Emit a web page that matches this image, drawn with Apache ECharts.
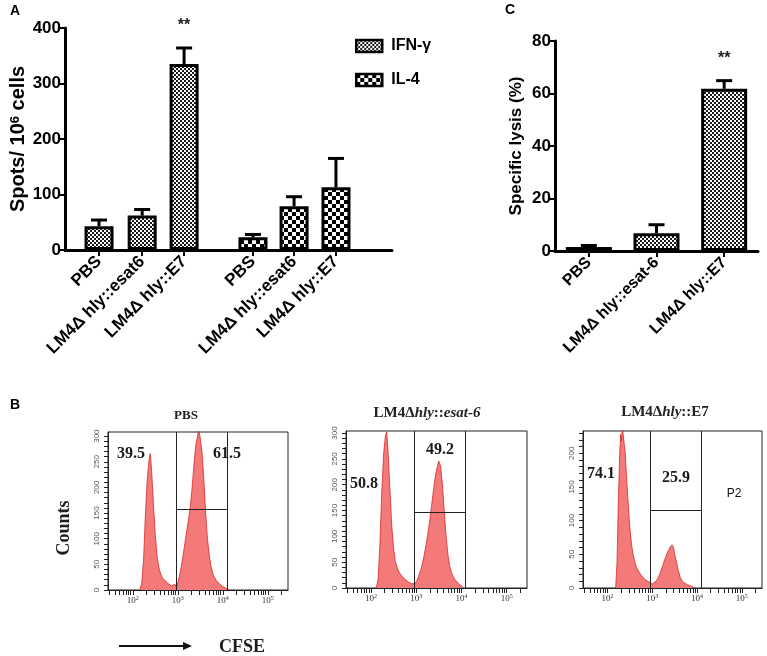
<!DOCTYPE html>
<html><head><meta charset="utf-8">
<script src="https://cdn.jsdelivr.net/npm/echarts@6/dist/echarts.min.js"></script>
<style>html,body{margin:0;padding:0;background:#fff}#c{width:767px;height:656px}</style>
</head><body><div id="c"></div>
<script>
// ---------- Panel A: ELISPOT ----------
const elispotCats = ['PBS', 'LM4\u0394 hly::esat6', 'LM4\u0394 hly::E7', 'PBS', 'LM4\u0394 hly::esat6', 'LM4\u0394 hly::E7'];
const ifnMeans = [43, 62, 335];
const ifnErrs = [11, 11, 29];
const il4Means = [23, 79, 113];
const il4Errs = [5, 17, 52];
const elispotSig = ['', '', '**', '', '', ''];
const spotsTicks = [0, 100, 200, 300, 400];

// ---------- Panel C: specific lysis ----------
const lysisCats = ['PBS', 'LM4\u0394 hly::esat-6', 'LM4\u0394 hly::E7'];
const lysisMeans = [1.5, 6.8, 61.8];
const lysisErrs = [0.6, 3.2, 3.1];
const lysisSig = ['', '', '**'];
const lysisTicks = [0, 20, 40, 60, 80];

// ---------- Panel B: CFSE histograms ([log10 CFSE, counts]) ----------
const flowPBS = [[2.16,0],[2.20,14],[2.24,58],[2.28,145],[2.32,212],[2.36,252],[2.39,266],[2.42,232],[2.46,168],[2.50,108],[2.54,66],[2.58,44],[2.62,31],[2.66,24],[2.70,20],[2.74,17],[2.78,13],[2.82,10],[2.86,8],[2.90,7],[2.94,11],[2.97,5],
  [3.00,14],[3.04,28],[3.08,46],[3.12,68],[3.16,92],[3.20,115],[3.24,138],[3.28,163],[3.32,200],[3.36,245],[3.40,282],[3.44,300],[3.47,312],[3.50,296],[3.54,268],[3.58,215],[3.62,150],[3.66,100],[3.70,68],[3.74,46],[3.78,32],[3.82,24],[3.86,18],[3.90,14],[3.94,11],[3.98,8],[4.02,6],[4.06,4],[4.10,2],[4.14,0]];
const flowEsat6 = [[2.12,0],[2.16,18],[2.20,85],[2.24,185],[2.28,258],[2.32,294],[2.35,302],[2.38,262],[2.42,192],[2.46,122],[2.50,78],[2.54,52],[2.58,40],[2.62,31],[2.66,26],[2.70,22],[2.74,18],[2.78,15],[2.82,12],[2.86,10],[2.90,8],[2.94,6],
  [2.98,9],[3.02,15],[3.06,24],[3.10,34],[3.14,48],[3.18,64],[3.22,84],[3.26,106],[3.30,130],[3.34,158],[3.38,188],[3.42,214],[3.46,232],[3.50,246],[3.54,236],[3.58,202],[3.62,150],[3.66,102],[3.70,66],[3.74,43],[3.78,30],[3.82,22],[3.86,16],[3.90,12],[3.94,8],[3.98,5],[4.02,3],[4.06,0]];
const flowE7 = [[2.18,0],[2.21,38],[2.24,128],[2.27,198],[2.29,228],[2.31,218],[2.33,240],[2.35,226],[2.37,214],[2.39,204],[2.42,168],[2.45,136],[2.48,104],[2.51,80],[2.54,62],[2.57,50],[2.61,38],[2.65,30],[2.70,24],[2.75,19],[2.80,15],[2.85,12],[2.90,10],[2.95,8],[3.00,6],
  [3.04,7],[3.08,10],[3.12,14],[3.16,20],[3.20,27],[3.24,35],[3.28,43],[3.32,50],[3.36,56],[3.40,61],[3.44,64],[3.47,60],[3.50,50],[3.54,38],[3.58,26],[3.62,16],[3.66,11],[3.70,8],[3.74,6],[3.78,5],[3.82,4],[3.86,3],[3.90,2],[3.94,0]];
const flowTitles = ['PBS', 'LM4\u0394hly::esat-6', 'LM4\u0394hly::E7'];
const flowYMax = [308, 304, 233];
const flowGateX = [2.96, 4.09];
const flowGateY = [158, 147, 115];
const flowLeftPct = ['39.5', '50.8', '74.1'];
const flowRightPct = ['61.5', '49.2', '25.9'];
const flowDecades = [2, 3, 4, 5];
const flowCountTicks = [0, 50, 100, 150, 200, 250, 300];

// ---------- layout (positions, not data) ----------
const slotsA = [0.82, 1.86, 2.87, 4.53, 5.52, 6.53];
const FF = '"Liberation Sans", Arial, sans-serif';
const SERIF = '"Liberation Serif", "Times New Roman", serif';

function checker(cell, dark, light) {
  const c = document.createElement('canvas');
  c.width = c.height = cell * 2;
  const g = c.getContext('2d');
  g.fillStyle = light; g.fillRect(0, 0, cell * 2, cell * 2);
  g.fillStyle = dark; g.fillRect(0, 0, cell, cell); g.fillRect(cell, cell, cell, cell);
  return c;
}
const patIFN = { image: checker(2, '#1a1a1a', '#ffffff'), repeat: 'repeat' };
const patIL4 = { image: checker(4, '#000000', '#ffffff'), repeat: 'repeat' };

function errRender(sigArr, offset) {
  return function (params, api) {
    const x = api.value(0), m = api.value(1), e = api.value(2);
    const p0 = api.coord([x, m]), p1 = api.coord([x, m + e]);
    const ch = [
      { type: 'line', shape: { x1: p0[0], y1: p0[1], x2: p1[0], y2: p1[1] }, style: { stroke: '#000', lineWidth: 3 } },
      { type: 'line', shape: { x1: p1[0] - 8, y1: p1[1], x2: p1[0] + 8, y2: p1[1] }, style: { stroke: '#000', lineWidth: 3 } }
    ];
    const s = sigArr[params.dataIndex + offset];
    if (s) ch.push({ type: 'text', style: { text: s, x: p1[0], y: p1[1] - 14, align: 'center', verticalAlign: 'bottom', font: 'bold 16px ' + FF, fill: '#222' } });
    return { type: 'group', children: ch };
  };
}

const grids = [
  { left: 65, top: 28, width: 327, height: 222 },
  { left: 555, top: 41, width: 203, height: 210 },
  { left: 108, top: 432, width: 180, height: 158, show: true, borderColor: '#222', borderWidth: 1 },
  { left: 346, top: 431, width: 181, height: 157, show: true, borderColor: '#222', borderWidth: 1 },
  { left: 583, top: 431, width: 179, height: 157, show: true, borderColor: '#222', borderWidth: 1 }
].map(g => Object.assign({ containLabel: false, outerBoundsMode: 'none' }, g));

const boldLbl = { color: '#000', fontWeight: 'bold', fontSize: 17, fontFamily: FF };
const xAxes = [
  { gridIndex: 0, type: 'value', min: 0, max: 7.88, splitLine: { show: false },
    axisLine: { show: true, lineStyle: { color: '#000', width: 3 } },
    axisTick: { show: true, customValues: slotsA, length: 6, lineStyle: { color: '#000', width: 2 } },
    axisLabel: { customValues: slotsA, rotate: 45, margin: 9, color: '#000', fontWeight: 'bold', fontSize: 17, fontFamily: FF,
      formatter: v => { let i = 0, d = 1e9; slotsA.forEach((s, k) => { if (Math.abs(s - v) < d) { d = Math.abs(s - v); i = k; } }); return elispotCats[i]; } } },
  { gridIndex: 1, type: 'category', data: lysisCats,
    axisLine: { show: true, lineStyle: { color: '#000', width: 3 } },
    axisTick: { show: true, alignWithLabel: true, length: 6, lineStyle: { color: '#000', width: 2 } },
    axisLabel: { rotate: 45, margin: 9, color: '#000', fontWeight: 'bold', fontSize: 16, fontFamily: FF, interval: 0 } }
];
const yAxes = [
  { gridIndex: 0, type: 'value', min: 0, max: 400, interval: 100, splitLine: { show: false },
    axisLine: { show: true, lineStyle: { color: '#000', width: 3 } },
    axisTick: { show: true, length: 6, lineStyle: { color: '#000', width: 2 } },
    axisLabel: Object.assign({ margin: 4 }, boldLbl),
    name: 'Spots/ 10{s|6} cells', nameLocation: 'middle', nameGap: 36,
    nameTextStyle: { color: '#000', fontWeight: 'bold', fontSize: 20, fontFamily: FF,
      rich: { s: { fontSize: 13, fontWeight: 'bold', fontFamily: FF, verticalAlign: 'top', lineHeight: 12, color: '#000' } } } },
  { gridIndex: 1, type: 'value', min: 0, max: 80, interval: 20, splitLine: { show: false },
    axisLine: { show: true, lineStyle: { color: '#000', width: 3 } },
    axisTick: { show: true, length: 6, lineStyle: { color: '#000', width: 2 } },
    axisLabel: Object.assign({ margin: 4 }, boldLbl),
    name: 'Specific lysis (%)', nameLocation: 'middle', nameGap: 30,
    nameTextStyle: { color: '#000', fontWeight: 'bold', fontSize: 17, fontFamily: FF } }
];

const flowXTicks = flowDecades.slice();
for (let n = 1; n <= 5; n++) for (let k = 2; k <= 9; k++) { const v = n + Math.log10(k); if (v > 1.45 && v < 5.45) flowXTicks.push(v); }
flowXTicks.sort((a, b) => a - b);

const series = [
  { type: 'bar', name: 'IFN-\u03b3', xAxisIndex: 0, yAxisIndex: 0, barWidth: 29, barGap: '-100%',
    data: ifnMeans.map((v, i) => [slotsA[i], v]),
    itemStyle: { color: patIFN, borderColor: '#000', borderWidth: 3 } },
  { type: 'bar', name: 'IL-4', xAxisIndex: 0, yAxisIndex: 0, barWidth: 29, barGap: '-100%',
    data: il4Means.map((v, i) => [slotsA[i + 3], v]),
    itemStyle: { color: patIL4, borderColor: '#000', borderWidth: 3 } },
  { type: 'custom', xAxisIndex: 0, yAxisIndex: 0, z: 1, data: ifnMeans.map((v, i) => [slotsA[i], v, ifnErrs[i]]), renderItem: errRender(elispotSig, 0) },
  { type: 'custom', xAxisIndex: 0, yAxisIndex: 0, z: 1, data: il4Means.map((v, i) => [slotsA[i + 3], v, il4Errs[i]]), renderItem: errRender(elispotSig, 3) },
  { type: 'bar', xAxisIndex: 1, yAxisIndex: 1, barWidth: 46, data: lysisMeans,
    itemStyle: { color: patIFN, borderColor: '#000', borderWidth: 3 } },
  { type: 'custom', xAxisIndex: 1, yAxisIndex: 1, z: 1, data: lysisMeans.map((v, i) => [i, v, lysisErrs[i]]), renderItem: errRender(lysisSig, 0) }
];

const flowData = [flowPBS, flowEsat6, flowE7];
for (let p = 0; p < 3; p++) {
  const gi = p + 2;
  const ymax = flowYMax[p];
  const yTicks = []; for (let v = 0; v <= ymax; v += 10) yTicks.push(v);
  const majY = flowCountTicks.filter(v => v <= ymax);
  xAxes.push({ gridIndex: gi, type: 'value', min: 1.45, max: 5.45, splitLine: { show: false },
    axisLine: { show: true, lineStyle: { color: '#222', width: 1 } },
    axisTick: { show: true, customValues: flowXTicks, length: 5, lineStyle: { color: '#222', width: 1 } },
    axisLabel: { customValues: flowDecades, margin: 5, color: '#333', fontSize: 9, fontFamily: SERIF,
      formatter: v => '{b|10}{s|' + v + '}',
      rich: { b: { fontSize: 9, fontFamily: SERIF, lineHeight: 12, color: '#333' }, s: { fontSize: 6, fontFamily: SERIF, lineHeight: 6, verticalAlign: 'top', color: '#333' } } } });
  yAxes.push({ gridIndex: gi, type: 'value', min: 0, max: ymax, splitLine: { show: false },
    axisLine: { show: true, lineStyle: { color: '#222', width: 1 } },
    axisTick: { show: true, customValues: yTicks, length: 4, lineStyle: { color: '#222', width: 1 } },
    axisLabel: { customValues: majY, rotate: 90, margin: 7, color: '#555', fontSize: 8, fontFamily: FF } });
  const xi = xAxes.length - 1, yi = yAxes.length - 1;
  series.push({ type: 'line', xAxisIndex: xi, yAxisIndex: yi, data: flowData[p], showSymbol: false, symbol: 'none',
    lineStyle: { color: '#d62828', width: 0.8 }, areaStyle: { color: '#f47a7a', opacity: 1 }, clip: true,
    markLine: { silent: true, symbol: ['none', 'none'], label: { show: false }, animation: false,
      lineStyle: { color: '#222', width: 1, type: 'solid' },
      data: [{ xAxis: flowGateX[0] }, { xAxis: flowGateX[1] },
        [{ coord: [flowGateX[0], flowGateY[p]] }, { coord: [flowGateX[1], flowGateY[p]] }]] } });
}

const pctFont = 'bold 16px ' + SERIF;
const pctPos = [[[131, 454], [227, 454]], [[364, 484], [440, 450]], [[601, 474], [676, 478]]];
const titlePos = [[186, 416], [427, 413], [665, 412]];
const graphics = [
  { type: 'text', x: 10, y: 4, style: { text: 'A', font: 'bold 14px ' + FF, fill: '#000' } },
  { type: 'text', x: 505, y: 3, style: { text: 'C', font: 'bold 14px ' + FF, fill: '#000' } },
  { type: 'text', x: 10, y: 398, style: { text: 'B', font: 'bold 14px ' + FF, fill: '#000' } },
  { type: 'text', x: 64, y: 528, rotation: Math.PI / 2, style: { text: 'Counts', font: 'bold 18px ' + SERIF, fill: '#1e1e1e', align: 'center', verticalAlign: 'middle' } },
  { type: 'text', x: 242, y: 647, style: { text: 'CFSE', font: 'bold 18px ' + SERIF, fill: '#1e1e1e', align: 'center', verticalAlign: 'middle' } },
  { type: 'line', shape: { x1: 119, y1: 646, x2: 185, y2: 646 }, style: { stroke: '#111', lineWidth: 2 } },
  { type: 'polygon', shape: { points: [[183, 642], [192, 646], [183, 650]] }, style: { fill: '#111' } },
  { type: 'text', x: 734, y: 494, style: { text: 'P2', font: '12px ' + FF, fill: '#111', align: 'center', verticalAlign: 'middle' } }
];
for (let p = 0; p < 3; p++) {
  graphics.push({ type: 'text', x: pctPos[p][0][0], y: pctPos[p][0][1], style: { text: flowLeftPct[p], font: pctFont, fill: '#1a1a1a', align: 'center', verticalAlign: 'middle' } });
  graphics.push({ type: 'text', x: pctPos[p][1][0], y: pctPos[p][1][1], style: { text: flowRightPct[p], font: pctFont, fill: '#1a1a1a', align: 'center', verticalAlign: 'middle' } });
  const t = flowTitles[p];
  let rt;
  if (p === 0) rt = '{a|' + t + '}';
  else { const m = t.match(/^(LM4\u0394)(hly)(::)(.*)$/); rt = '{b|' + m[1] + '}{i|' + m[2] + '}{b|' + m[3] + '}' + (p === 1 ? '{i|' + m[4] + '}' : '{b|' + m[4] + '}'); }
  graphics.push({ type: 'text', x: titlePos[p][0], y: titlePos[p][1], style: { text: rt, align: 'center', verticalAlign: 'middle',
    rich: { a: { font: 'bold 13px ' + SERIF, fill: '#222' }, b: { font: 'bold 15px ' + SERIF, fill: '#222' }, i: { font: 'italic bold 15px ' + SERIF, fill: '#222' } } } });
}

const chart = echarts.init(document.getElementById('c'), null, { renderer: 'canvas' });
chart.setOption({
  animation: false,
  backgroundColor: '#fff',
  textStyle: { fontFamily: FF },
  grid: grids,
  xAxis: xAxes,
  yAxis: yAxes,
  legend: { data: ['IFN-\u03b3', 'IL-4'], left: 355, top: 38, padding: 0, orient: 'vertical', icon: 'rect', itemWidth: 26, itemHeight: 12, itemGap: 18,
    selectedMode: false, textStyle: { color: '#000', fontWeight: 'bold', fontSize: 16, fontFamily: FF, padding: [0, 0, 0, 4] },
    itemStyle: { borderWidth: 2.5, borderColor: '#000' } },
  series: series,
  graphic: graphics
});
</script>
</body></html>
